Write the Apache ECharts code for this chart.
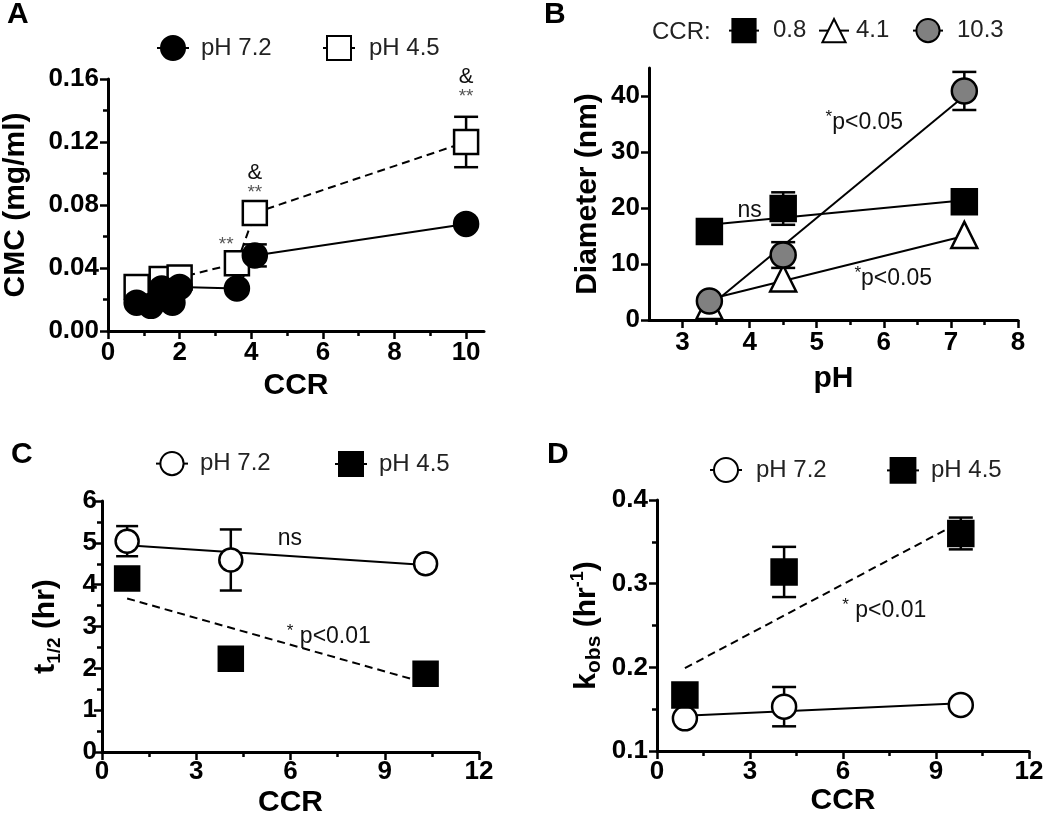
<!DOCTYPE html>
<html><head><meta charset="utf-8">
<script src="https://cdn.jsdelivr.net/npm/echarts@6/dist/echarts.min.js"></script>
<style>html,body{margin:0;padding:0;background:#fff}#c{width:1050px;height:823px}</style>
</head><body><div id="c"></div>
<script>
const FONT = '"Liberation Sans", Arial, Helvetica, sans-serif';

// ---------------- Panel A : CMC vs CCR ----------------
const A_ccr72 = [0.8, 1.2, 1.5, 1.8, 2.0, 3.6, 4.1, 10.0];
const A_cmc72 = [0.018, 0.016, 0.027, 0.018, 0.028, 0.027, 0.048, 0.068];
const A_sd72  = [0, 0, 0, 0, 0, 0, 0.007, 0];
const A_ccr45 = [0.8, 1.5, 2.0, 3.6, 4.1, 10.0];
const A_cmc45 = [0.028, 0.033, 0.034, 0.043, 0.075, 0.120];
const A_sd45  = [0, 0, 0, 0, 0, 0.016];
const A_xTicks = [0, 2, 4, 6, 8, 10];
const A_xMinor = [1, 3, 5, 7, 9];
const A_yTicks = [0, 0.04, 0.08, 0.12, 0.16];
const A_yMinor = [0.02, 0.06, 0.10, 0.14];
const A_starX = [3.3, 4.1, 10.0];
const A_starY = [0.057, 0.090, 0.151];
const A_ampX = [4.1, 10.0];
const A_ampY = [0.1005, 0.161];

// ---------------- Panel B : Diameter vs pH ----------------
const B_pH = [3.4, 4.5, 7.2];
const B_d08 = [15.8, 19.9, 21.1];
const B_sd08 = [0, 2.9, 0];
const B_d41 = [2.5, 7.4, 15.2];
const B_d103 = [3.4, 11.6, 40.9];
const B_sd103 = [0, 2.3, 3.4];
const B_fitX = [3.4, 7.2];
const B_fit08 = [17.0, 21.4];
const B_fit41 = [3.7, 15.0];
const B_fit103 = [2.4, 40.0];
const B_xTicks = [3, 4, 5, 6, 7, 8];
const B_xMinor = [3.5, 4.5, 5.5, 6.5, 7.5];
const B_yTicks = [0, 10, 20, 30, 40];
const B_yMinor = [];
const B_noteText = ['ns', '*p<0.05', '*p<0.05'];
const B_noteX = [4.0, 5.71, 6.14];
const B_noteY = [19.6, 35.3, 7.4];

// ---------------- Panel C : t1/2 vs CCR ----------------
const C_ccr = [0.8, 4.1, 10.3];
const C_t72 = [5.04, 4.59, 4.50];
const C_sd72 = [0.36, 0.73, 0];
const C_t45 = [4.15, 2.23, 1.87];
const C_fitX = [0.8, 10.3];
const C_fit72 = [4.94, 4.47];
const C_fit45 = [3.67, 1.65];
const C_xTicks = [0, 3, 6, 9, 12];
const C_xMinor = [1.5, 4.5, 7.5, 10.5];
const C_yTicks = [0, 1, 2, 3, 4, 5, 6];
const C_yMinor = [0.5, 1.5, 2.5, 3.5, 4.5, 5.5];
const C_noteText = ['ns', '* p<0.01'];
const C_noteX = [5.98, 7.22];
const C_noteY = [5.1, 2.75];

// ---------------- Panel D : kobs vs CCR ----------------
const D_ccr = [0.9, 4.1, 9.8];
const D_k72 = [0.139, 0.153, 0.155];
const D_sd72 = [0, 0.0235, 0];
const D_k45 = [0.167, 0.314, 0.360];
const D_sd45 = [0, 0.030, 0.019];
const D_fitX = [0.9, 9.8];
const D_fit72 = [0.142, 0.157];
const D_fit45 = [0.199, 0.374];
const D_xTicks = [0, 3, 6, 9, 12];
const D_xMinor = [1.5, 4.5, 7.5, 10.5];
const D_yTicks = [0.1, 0.2, 0.3, 0.4];
const D_yMinor = [0.15, 0.25, 0.35];
const D_noteText = ['* p<0.01'];
const D_noteX = [7.33];
const D_noteY = [0.268];

// ---------------- helpers ----------------
const zip = (xs, ys) => xs.map((x, i) => [x, ys[i]]);

function axisPair(dim, gi, min, max, major, minor, fmt, margin, name, nameGap, rich) {
  const isX = dim === 'x';
  const pos = isX ? 'bottom' : 'left';
  const main = {
    type: 'value', gridIndex: gi, min, max, position: pos,
    axisLine: {show: true, onZero: false, lineStyle: {color: '#000', width: 3}},
    axisTick: {show: true, customValues: major, length: 8, lineStyle: {color: '#000', width: 2.5}},
    axisLabel: {show: true, customValues: major, formatter: fmt, margin,
      color: '#000', fontFamily: FONT, fontWeight: 'bold', fontSize: 26},
    splitLine: {show: false},
    name, nameLocation: 'middle', nameGap, nameRotate: isX ? 0 : 90,
    nameTextStyle: {color: '#000', fontFamily: FONT, fontWeight: 'bold', fontSize: 30, rich: rich || {}}
  };
  const mnr = {
    type: 'value', gridIndex: gi, min, max, position: pos,
    axisLine: {show: false, onZero: false},
    axisTick: {show: minor.length > 0, customValues: minor, length: 5, lineStyle: {color: '#000', width: 2.5}},
    axisLabel: {show: false},
    splitLine: {show: false}
  };
  return [main, mnr];
}

function errBars(p, xs, ys, es, cap) {
  const data = [];
  xs.forEach((x, i) => { if (es[i] > 0) data.push([x, ys[i] - es[i], ys[i] + es[i]]); });
  return {
    type: 'custom', xAxisIndex: 2 * p, yAxisIndex: 2 * p, z: 1, silent: true,
    encode: {x: 0, y: [1, 2]}, data,
    renderItem(params, api) {
      const x = api.value(0);
      const lo = api.coord([x, api.value(1)]);
      const hi = api.coord([x, api.value(2)]);
      const style = {stroke: '#000', lineWidth: 2.5, fill: null};
      return {type: 'group', children: [
        {type: 'line', shape: {x1: lo[0], y1: lo[1], x2: hi[0], y2: hi[1]}, style},
        {type: 'line', shape: {x1: lo[0] - cap, y1: lo[1], x2: lo[0] + cap, y2: lo[1]}, style},
        {type: 'line', shape: {x1: hi[0] - cap, y1: hi[1], x2: hi[0] + cap, y2: hi[1]}, style}
      ]};
    }
  };
}

function markers(p, name, xs, ys, symbol, size, fill, connect, dashed) {
  return {
    type: 'line', name, xAxisIndex: 2 * p, yAxisIndex: 2 * p, z: 3,
    data: zip(xs, ys), symbol, symbolSize: size, showSymbol: true,
    itemStyle: {color: fill, borderColor: '#000', borderWidth: 2.5, opacity: 1},
    lineStyle: connect ? {color: '#000', width: 2, type: dashed ? [8, 5] : 'solid'} : {opacity: 0, width: 0},
    emphasis: {disabled: true}, animation: false
  };
}

function fitLine(p, xs, ys, dashed) {
  return {
    type: 'line', xAxisIndex: 2 * p, yAxisIndex: 2 * p, z: 1, silent: true,
    data: zip(xs, ys), showSymbol: false, symbol: 'none',
    lineStyle: {color: '#000', width: 2, type: dashed ? [8, 5] : 'solid'},
    emphasis: {disabled: true}
  };
}

function notes(p, xs, ys, texts, label) {
  return {
    type: 'scatter', xAxisIndex: 2 * p, yAxisIndex: 2 * p, z: 5, silent: true, clip: false,
    symbolSize: 1, itemStyle: {color: 'rgba(255,255,255,0)', opacity: 1},
    data: xs.map((x, i) => ({name: texts[i], value: [x, ys[i]]})),
    label: Object.assign({show: true, position: 'inside', fontFamily: FONT, formatter: '{b}',
      opacity: 1, textBorderWidth: 0}, label),
    emphasis: {disabled: true}
  };
}

const pLabel = {
  color: '#111', fontSize: 23,
  formatter: prm => prm.name.charAt(0) === '*'
    ? '{s|*}{t|' + prm.name.slice(1) + '}' : '{t|' + prm.name + '}',
  rich: {
    s: {fontSize: 17, color: '#111', fontFamily: FONT, verticalAlign: 'top', lineHeight: 18},
    t: {fontSize: 23, color: '#111', fontFamily: FONT, lineHeight: 28}
  }
};

function leg(name, left, top, w, h, pad) {
  return {
    show: true, left, top, padding: 0, itemWidth: w, itemHeight: h, selectedMode: false,
    data: [name], formatter: n => n.split('|')[1],
    lineStyle: {color: '#000', width: 2, type: 'solid', opacity: 1},
    textStyle: {fontFamily: FONT, fontSize: 24, color: '#222', padding: [0, 0, 0, pad]}
  };
}

// ---------------- axes ----------------
const f2 = v => v.toFixed(2), f1 = v => v.toFixed(1), f0 = v => String(v);
const xAxes = [].concat(
  axisPair('x', 0, 0, 10.5, A_xTicks, A_xMinor, f0, 9, 'CCR', 40),
  axisPair('x', 1, 2.5, 8, B_xTicks, B_xMinor, f0, 10, 'pH', 44),
  axisPair('x', 2, 0, 12, C_xTicks, C_xMinor, f0, 7, 'CCR', 36),
  axisPair('x', 3, 0, 12, D_xTicks, D_xMinor, f0, 8, 'CCR', 35)
);
const yAxes = [].concat(
  axisPair('y', 0, 0, 0.16, A_yTicks, A_yMinor, f2, 9, 'CMC (mg/ml)', 77),
  axisPair('y', 1, 0, 45, B_yTicks, B_yMinor, f0, 9, 'Diameter (nm)', 46),
  axisPair('y', 2, 0, 6, C_yTicks, C_yMinor, f0, 5, '{m|t}{s|1/2}{m| (hr)}', 38, {
    m: {fontSize: 30, fontWeight: 'bold', fontFamily: FONT, color: '#000', lineHeight: 36},
    s: {fontSize: 19, fontWeight: 'bold', fontFamily: FONT, color: '#000', verticalAlign: 'bottom', lineHeight: 18}
  }),
  axisPair('y', 3, 0.1, 0.4, D_yTicks, D_yMinor, f1, 9, '{m|k}{s|obs}{m| (hr}{p|-1}{m|)}', 52, {
    m: {fontSize: 30, fontWeight: 'bold', fontFamily: FONT, color: '#000', lineHeight: 36},
    s: {fontSize: 21, fontWeight: 'bold', fontFamily: FONT, color: '#000', verticalAlign: 'bottom', lineHeight: 18},
    p: {fontSize: 18, fontWeight: 'bold', fontFamily: FONT, color: '#000', verticalAlign: 'top', lineHeight: 16}
  })
);

// ---------------- series ----------------
const series = [
  // A
  errBars(0, A_ccr45, A_cmc45, A_sd45, 12),
  errBars(0, A_ccr72, A_cmc72, A_sd72, 12),
  markers(0, 'A|pH 4.5', A_ccr45, A_cmc45, 'rect', 24, '#fff', true, true),
  markers(0, 'A|pH 7.2', A_ccr72, A_cmc72, 'circle', 24, '#000', true, false),
  notes(0, A_starX, A_starY, A_starX.map(() => '**'), {color: '#555', fontSize: 19, offset: [0, 4]}),
  notes(0, A_ampX, A_ampY, A_ampX.map(() => '&'), {color: '#111', fontSize: 22}),
  // B
  fitLine(1, B_fitX, B_fit08, false),
  fitLine(1, B_fitX, B_fit41, false),
  fitLine(1, B_fitX, B_fit103, false),
  errBars(1, B_pH, B_d08, B_sd08, 12),
  errBars(1, B_pH, B_d103, B_sd103, 12),
  markers(1, 'B|4.1', B_pH, B_d41, 'triangle', 26, '#fff', false),
  markers(1, 'B|10.3', B_pH, B_d103, 'circle', 25, '#808080', false),
  markers(1, 'B|0.8', B_pH, B_d08, 'rect', 25, '#000', false),
  notes(1, B_noteX, B_noteY, B_noteText, pLabel),
  // C
  fitLine(2, C_fitX, C_fit72, false),
  fitLine(2, C_fitX, C_fit45, true),
  errBars(2, C_ccr, C_t72, C_sd72, 11),
  markers(2, 'C|pH 7.2', C_ccr, C_t72, 'circle', 23, '#fff', false),
  markers(2, 'C|pH 4.5', C_ccr, C_t45, 'rect', 24, '#000', false),
  notes(2, C_noteX, C_noteY, C_noteText, pLabel),
  // D
  fitLine(3, D_fitX, D_fit72, false),
  fitLine(3, D_fitX, D_fit45, true),
  errBars(3, D_ccr, D_k72, D_sd72, 12),
  errBars(3, D_ccr, D_k45, D_sd45, 12),
  markers(3, 'D|pH 7.2', D_ccr, D_k72, 'circle', 24, '#fff', false),
  markers(3, 'D|pH 4.5', D_ccr, D_k45, 'rect', 25, '#000', false),
  notes(3, D_noteX, D_noteY, D_noteText, pLabel)
];

const legends = [
  leg('A|pH 7.2', 156, 35, 32, 30, 7),
  leg('A|pH 4.5', 322, 35, 32, 30, 9),
  leg('B|0.8', 728, 18, 30, 29, 9),
  leg('B|4.1', 818, 18, 30, 29, 2),
  leg('B|10.3', 912, 18, 30, 29, 9),
  leg('C|pH 7.2', 155, 451, 32, 29, 7),
  leg('C|pH 4.5', 334, 451, 32, 30, 7),
  leg('D|pH 7.2', 709, 457, 32, 30, 9),
  leg('D|pH 4.5', 886, 457, 32, 31, 7)
];

const letter = (t, x, y) => ({type: 'text', left: x, top: y,
  style: {text: t, fontFamily: FONT, fontWeight: 'bold', fontSize: 30, fill: '#000'}});

const chart = echarts.init(document.getElementById('c'), null, {renderer: 'canvas'});
chart.setOption({
  animation: false,
  backgroundColor: '#fff',
  grid: [
    {left: 108, top: 79, width: 376, height: 252, outerBoundsMode: 'none'},
    {left: 649, top: 68, width: 369, height: 252, outerBoundsMode: 'none'},
    {left: 102, top: 501, width: 377, height: 251, outerBoundsMode: 'none'},
    {left: 657, top: 500, width: 372, height: 251, outerBoundsMode: 'none'}
  ],
  xAxis: xAxes,
  yAxis: yAxes,
  legend: legends,
  series,
  graphic: [
    letter('A', 7, 0),
    letter('B', 544, 0),
    letter('C', 11, 440),
    letter('D', 547, 440),
    {type: 'text', left: 652, top: 20,
      style: {text: 'CCR:', fontFamily: FONT, fontSize: 24, fill: '#222'}}
  ]
});
</script>
</body></html>
